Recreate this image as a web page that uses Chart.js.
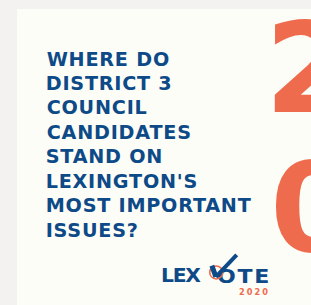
<!DOCTYPE html>
<html>
<head>
<meta charset="utf-8">
<script src="https://cdn.jsdelivr.net/npm/chart.js@4/dist/chart.umd.min.js"></script>
<style>
  html, body { margin:0; padding:0; }
  body { width:311px; height:305px; background:#f3f2f1; position:relative; overflow:hidden; }
  #card { position:absolute; left:17px; top:9px; width:294px; height:296px; background:#fdfdf8; }
  .t { position:absolute; margin:0; white-space:pre; }
  #logoChart { position:absolute; left:195px; top:240px; }
</style>
</head>
<body>
<div id="card"></div>
<div id="texts"></div>
<canvas id="logoChart" width="60" height="50"></canvas>
<script>
// ---- content ----
const headlineLines = ["WHERE DO", "DISTRICT 3", "COUNCIL", "CANDIDATES", "STAND ON", "LEXINGTON'S", "MOST IMPORTANT", "ISSUES?"];
const bigDigits = ["2", "0"];
const logoLeft = "LEX";
const logoRight = "OTE";
const logoYear = "2020";
// checkmark and ring of the logo (chart units)
const checkX = [12, 17.5, 46];
const checkY = [24, 7.5, 40];
const ringX = [18];
const ringY = [14];

const BLUE = "#0d4a87";
const ORANGE = "#ee6c4d";
const FAMILY = "'DejaVu Sans', sans-serif";

const mctx = document.createElement("canvas").getContext("2d");
function metrics(text, weight, size) {
  mctx.font = weight + " " + size + "px " + FAMILY;
  return { m: mctx.measureText(text) };
}
function inkWidth(text, weight, size) {
  const { m } = metrics(text, weight, size);
  return m.actualBoundingBoxLeft + m.actualBoundingBoxRight;
}
function spacingFor(text, weight, size, targetW) {
  const w0 = inkWidth(text, weight, size);
  return text.length > 1 ? (targetW - w0) / (text.length - 1) : 0;
}
function place(text, weight, size, color, inkLeft, baseline, spacing, sx) {
  const { m } = metrics(text, weight, size);
  const fba = m.fontBoundingBoxAscent, fbd = m.fontBoundingBoxDescent;
  const baseOff = (size - (fba + fbd)) / 2 + fba;
  const el = document.createElement("div");
  el.className = "t";
  el.textContent = text;
  el.style.font = weight + " " + size + "px " + FAMILY;
  el.style.lineHeight = size + "px";
  el.style.color = color;
  el.style.letterSpacing = (spacing || 0) + "px";
  el.style.left = (inkLeft + m.actualBoundingBoxLeft) + "px";
  el.style.top = (baseline - baseOff) + "px";
  if (sx && sx !== 1) {
    el.style.transformOrigin = (-m.actualBoundingBoxLeft) + "px 0px";
    el.style.transform = "scaleX(" + sx + ")";
  }
  document.getElementById("texts").appendChild(el);
}

// headline
const HS = 19.2, HW = "bold";
const hSpace = spacingFor("MOST IMPORTANT", HW, HS, 204);
headlineLines.forEach((line, i) => place(line, HW, HS, BLUE, 46.7, 65.6 + i * 24.43, hSpace));

// big orange digits
place(bigDigits[0], "bold", 124, ORANGE, 274, 112, 0);
place(bigDigits[1], "bold", 124, ORANGE, 275, 250.5, 0);

// logo words
place(logoLeft, "bold", 20.3, BLUE, 162, 282.5, spacingFor(logoLeft, "bold", 20.3, 39.3));
const oteSp = 1.6;
const oteScale = 50.3 / (inkWidth(logoRight, "bold", 20.3) + oteSp * 2);
place(logoRight, "bold", 20.3, BLUE, 218, 282.7, oteSp, oteScale);
place(logoYear, "bold", 8.2, ORANGE, 239, 295.3, spacingFor(logoYear, "bold", 8.2, 29.3));

// logo check + ring via Chart.js
new Chart(document.getElementById("logoChart"), {
  type: "scatter",
  data: {
    datasets: [
      {
        data: checkX.map((x, i) => ({ x, y: checkY[i] })),
        showLine: true,
        borderColor: BLUE,
        borderWidth: 4.5,
        borderJoinStyle: "miter",
        borderCapStyle: "butt",
        pointRadius: 0,
        segment: { borderWidth: ctx => ctx.p0DataIndex === 0 ? 5 : 4 }
      },
      {
        data: ringX.map((x, i) => ({ x, y: ringY[i] })),
        pointRadius: 6.5,
        pointBorderWidth: 1.6,
        pointBorderColor: ORANGE,
        pointBackgroundColor: "rgba(0,0,0,0)",
        showLine: false
      }
    ]
  },
  options: {
    responsive: false,
    animation: false,
    layout: { padding: 0 },
    plugins: { legend: { display: false }, tooltip: { enabled: false } },
    scales: {
      x: { type: "linear", min: 0, max: 60, display: false },
      y: { type: "linear", min: 0, max: 50, display: false }
    }
  }
});
</script>
</body>
</html>
